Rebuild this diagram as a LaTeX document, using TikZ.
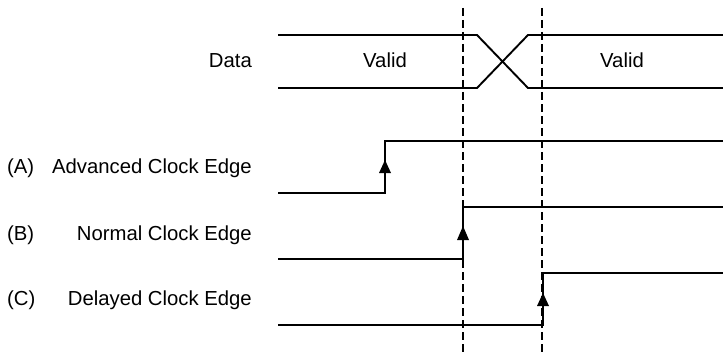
\documentclass[tikz,border=0pt]{standalone}
\usepackage{fontspec}
\setmainfont{Liberation Sans}
\begin{document}
\begin{tikzpicture}[x=1pt,y=-1pt,
  wave/.style={line width=1.9pt},
  guide/.style={line width=2pt,dash pattern=on 8pt off 4pt},
  lbl/.style={inner sep=0pt,font=\fontsize{20.3}{24}\selectfont},
  tip/.style={fill=black}]
\useasboundingbox (0,0) rectangle (723,353);
% labels
\node[lbl,anchor=base east] (data) at (252,67) {Data};
\node[lbl,anchor=base west] (la) at (7,173) {(A)};
\node[lbl,anchor=base east] (ta) at (252,173) {Advanced Clock Edge};
\node[lbl,anchor=base west] (lb) at (7,240) {(B)};
\node[lbl,anchor=base east] (tb) at (252,240) {Normal Clock Edge};
\node[lbl,anchor=base west] (lc) at (7,305) {(C)};
\node[lbl,anchor=base east] (tc) at (252,305) {Delayed Clock Edge};
\node[lbl,anchor=base] (v1) at (385,68) {Valid};
\node[lbl,anchor=base] (v2) at (622,68) {Valid};
% guides
\coordinate (g1t) at (463,8); \coordinate (g1b) at (463,353);
\coordinate (g2t) at (542,8); \coordinate (g2b) at (542,353);
\draw[guide] (g1t) -- (g1b);
\draw[guide] (g2t) -- (g2b);
% data bus
\coordinate (d0t) at (278,35); \coordinate (d1t) at (477,35);
\coordinate (d0b) at (278,88); \coordinate (d1b) at (477,88);
\coordinate (d2t) at (528,35); \coordinate (d2b) at (528,88);
\coordinate (d3t) at (723,35); \coordinate (d3b) at (723,88);
\draw[wave] (d0t) -- (d1t) -- (d2b) -- (d3b);
\draw[wave] (d0b) -- (d1b) -- (d2t) -- (d3t);
% clock A
\coordinate (a0) at (278,193); \coordinate (a1) at (385,193);
\coordinate (a2) at (385,141); \coordinate (a3) at (723,141);
\draw[wave] (a0) -- (a1) -- (a2) -- (a3);
\fill[tip] (385,160) -- (391,173) -- (379,173) -- cycle;
% clock B
\coordinate (b0) at (278,259); \coordinate (b1) at (463,259);
\coordinate (b2) at (463,207); \coordinate (b3) at (723,207);
\draw[wave] (b0) -- (b1) -- (b2) -- (b3);
\fill[tip] (463,226) -- (469,240) -- (457,240) -- cycle;
% clock C
\coordinate (c0) at (278,325); \coordinate (c1) at (543,325);
\coordinate (c2) at (543,273); \coordinate (c3) at (723,273);
\draw[wave] (c0) -- (c1) -- (c2) -- (c3);
\fill[tip] (543,293) -- (549,306) -- (537,306) -- cycle;
\end{tikzpicture}
\end{document}
